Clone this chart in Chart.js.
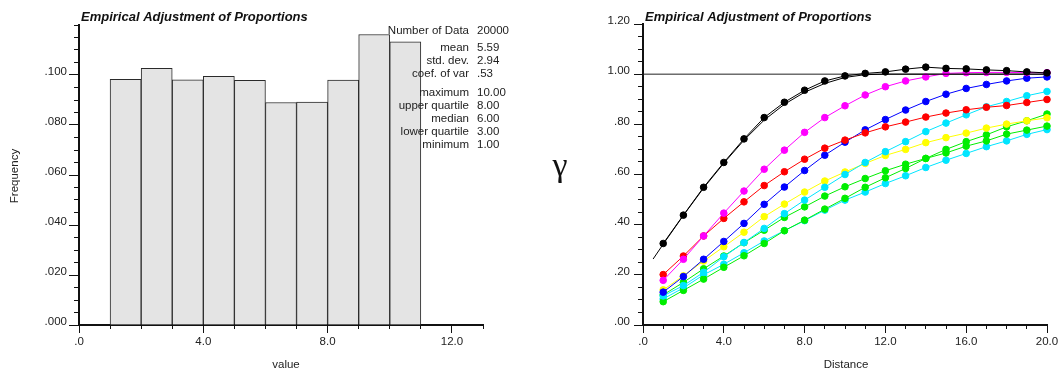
<!DOCTYPE html>
<html><head><meta charset="utf-8">
<script src="https://cdn.jsdelivr.net/npm/chart.js@4.4.0/dist/chart.umd.min.js"></script>
<style>
html,body{margin:0;padding:0;background:#fff;}
#wrap{position:relative;width:1064px;height:376px;overflow:hidden;background:#fff;}
canvas{position:absolute;top:0;}
#c1{left:0;width:532px;height:376px;}
#c2{left:532px;width:532px;height:376px;}
</style></head><body>
<div id="wrap"><canvas id="c1" width="532" height="376"></canvas><canvas id="c2" width="532" height="376"></canvas></div>
<script>
// ---------- Histogram data ----------
const binCenters = [1.5, 2.5, 3.5, 4.5, 5.5, 6.5, 7.5, 8.5, 9.5, 10.5];
const binFreq    = [0.0983, 0.1027, 0.0981, 0.0995, 0.0979, 0.0890, 0.0892, 0.0980, 0.1162, 0.1133];
const statLabels = ['Number of Data', 'mean', 'std. dev.', 'coef. of var', 'maximum', 'upper quartile', 'median', 'lower quartile', 'minimum'];
const statValues = ['20000', '5.59', '2.94', '.53', '10.00', '8.00', '6.00', '3.00', '1.00'];

// ---------- Variogram data ----------
const lags = [1,2,3,4,5,6,7,8,9,10,11,12,13,14,15,16,17,18,19,20];
const gBlack   = [0.325,0.438,0.549,0.648,0.742,0.827,0.888,0.936,0.973,0.993,1.003,1.009,1.020,1.028,1.023,1.021,1.017,1.014,1.009,1.005];
const gMagenta = [0.178,0.262,0.355,0.446,0.534,0.621,0.697,0.768,0.827,0.874,0.917,0.950,0.973,0.989,1.003,1.006,1.007,1.007,1.006,1.006];
const gRed     = [0.201,0.275,0.355,0.425,0.491,0.556,0.611,0.661,0.705,0.737,0.766,0.790,0.809,0.829,0.845,0.858,0.868,0.875,0.887,0.899];
const gBlue    = [0.131,0.193,0.262,0.333,0.405,0.481,0.550,0.616,0.677,0.729,0.778,0.819,0.857,0.891,0.920,0.943,0.959,0.973,0.984,0.989];
const gYellow  = [0.140,0.196,0.255,0.312,0.370,0.432,0.482,0.530,0.574,0.610,0.644,0.676,0.700,0.727,0.747,0.765,0.785,0.801,0.814,0.826];
const gCyan1   = [0.116,0.157,0.210,0.272,0.329,0.385,0.444,0.498,0.549,0.600,0.648,0.691,0.731,0.771,0.805,0.838,0.870,0.891,0.914,0.931];
const gCyan2   = [0.104,0.148,0.200,0.242,0.288,0.335,0.376,0.416,0.458,0.498,0.530,0.564,0.595,0.628,0.657,0.684,0.711,0.734,0.760,0.779];
const gGreen1  = [0.093,0.138,0.183,0.230,0.276,0.325,0.376,0.418,0.462,0.505,0.549,0.587,0.624,0.664,0.700,0.731,0.758,0.790,0.814,0.841];
const gGreen2  = [0.120,0.170,0.224,0.275,0.328,0.378,0.429,0.471,0.514,0.551,0.584,0.615,0.641,0.664,0.686,0.713,0.734,0.761,0.777,0.793];
const modelLags = [0.5,1,2,3,4,5,6,7,8,9,10,11,12,20];
const modelVals = [0.263,0.322,0.437,0.546,0.645,0.737,0.817,0.880,0.928,0.963,0.987,0.998,1.0,1.0];
const sillLags = [0, 20];
const sillVals = [1, 1];

const FONT = "'Liberation Sans', Arial, sans-serif";
Chart.defaults.font.family = FONT;
Chart.defaults.font.size = 11.5;
Chart.defaults.color = '#222';

function fmt(dec) {
  return function(v) {
    let s = Number(v).toFixed(dec);
    if (s.startsWith('0.')) s = s.slice(1);
    return s;
  };
}

function textPlugin(items) {
  return {
    id: 'texts',
    afterDraw(chart) {
      const ctx = chart.ctx;
      ctx.save();
      for (const t of items) {
        ctx.font = t.font;
        ctx.fillStyle = t.color || '#222';
        ctx.textAlign = t.align || 'left';
        ctx.textBaseline = 'middle';
        if (t.rot) {
          ctx.save(); ctx.translate(t.x, t.y); ctx.rotate(t.rot);
          ctx.fillText(t.text, 0, 0); ctx.restore();
        } else ctx.fillText(t.text, t.x, t.y);
      }
      ctx.restore();
    }
  };
}

function axes(o) {
  return {
    x: {
      type: 'linear', position: 'bottom', min: 0, max: o.xmax, offset: false, weight: 1, z: 1,
      grid: { display: true, drawOnChartArea: false, drawTicks: true, tickLength: 8, color: '#111', offset: false, tickWidth: 1 },
      border: { display: true, color: '#111', width: 2 },
      ticks: { stepSize: o.xMajor, includeBounds: false, autoSkip: false, maxRotation: 0, padding: 2, callback: fmt(o.xDec), color: '#222' },
      afterFit: s => { s.height = o.xH; }
    },
    xMinor: {
      type: 'linear', axis: 'x', position: 'bottom', min: 0, max: o.xmax, offset: false, weight: 0, z: 1,
      grid: { display: true, drawOnChartArea: false, drawTicks: true, tickLength: 4, color: '#111', offset: false },
      border: { display: false },
      ticks: { display: false, stepSize: 1 },
      afterFit: s => { s.height = 0; }
    },
    y: {
      type: 'linear', position: 'left', min: 0, max: o.ymax, weight: 1, z: 1,
      grid: { display: true, drawOnChartArea: false, drawTicks: true, tickLength: o.yTick, offset: false,
              color: '#111',
              tickColor: c => (o.hideTop && c.tick && c.tick.value > o.ymax - o.yMajor / 2) ? 'rgba(0,0,0,0)' : '#111' },
      border: { display: true, color: '#111', width: 2 },
      ticks: { stepSize: o.yMajor, autoSkip: false, padding: o.yPad, labelOffset: -3, color: '#222',
               callback: v => (o.hideTop && v > o.ymax - o.yMajor / 2) ? '' : fmt(o.yDec)(v) },
      afterFit: s => { s.width = o.yW; }
    },
    yMinor: {
      type: 'linear', axis: 'y', position: 'left', min: 0, max: o.ymax, weight: 0, z: 1,
      grid: { display: true, drawOnChartArea: false, drawTicks: true, tickLength: 5, color: '#111', offset: false },
      border: { display: false },
      ticks: { display: false, stepSize: o.yMinor },
      afterFit: s => { s.width = 0; }
    }
  };
}

const TITLE = 'Empirical Adjustment of Proportions';
const TFONT = "italic bold 13px " + FONT;
const LFONT = "11.5px " + FONT;

// ---------- Left: histogram ----------
const statY = [31, 48, 61, 74, 93, 106, 119, 132, 145];
const leftTexts = [
  { text: TITLE, x: 81, y: 17, font: TFONT, color: '#111' },
  { text: 'Frequency', x: 15, y: 176, font: LFONT, align: 'center', rot: -Math.PI / 2 },
  { text: 'value', x: 286, y: 365, font: LFONT, align: 'center' }
];
statLabels.forEach((s, i) => {
  leftTexts.push({ text: s, x: 469, y: statY[i], font: LFONT, align: 'right' });
  leftTexts.push({ text: statValues[i], x: 477, y: statY[i], font: LFONT, align: 'left' });
});

new Chart(document.getElementById('c1'), {
  type: 'bar',
  data: {
    datasets: [{
      data: binCenters.map((c, i) => ({ x: c, y: binFreq[i] })),
      backgroundColor: '#e4e4e4',
      borderColor: '#2a2a2a',
      borderWidth: 1,
      categoryPercentage: 1.0,
      barPercentage: 1.0
    }]
  },
  options: {
    responsive: false, animation: false, devicePixelRatio: 1,
    layout: { padding: { top: 25, right: 49, left: 0, bottom: 0 } },
    plugins: { legend: { display: false }, tooltip: { enabled: false }, title: { display: false } },
    scales: axes({ xmax: 13, xMajor: 4, xDec: 1, ymax: 0.12, yMajor: 0.02, yMinor: 0.005, yDec: 3,
                   yW: 79, xH: 51, hideTop: true, yTick: 10, yPad: 2 })
  },
  plugins: [textPlugin(leftTexts)]
});

// ---------- Right: variogram ----------
const seriesDefs = [
  { v: gBlack, c: '#000000' },
  { v: gMagenta, c: '#ff00ff' },
  { v: gRed, c: '#ff0000' },
  { v: gBlue, c: '#0000ff' },
  { v: gCyan1, c: '#00e5ff' },
  { v: gYellow, c: '#ffff00' },
  { v: gGreen2, c: '#00ee00' },
  { v: gGreen1, c: '#00ee00' },
  { v: gCyan2, c: '#00e5ff' }
];
const rightDatasets = seriesDefs.map(s => ({
  data: lags.map((d, i) => ({ x: d, y: s.v[i] })),
  borderColor: s.c, backgroundColor: s.c, pointBackgroundColor: s.c, pointBorderColor: s.c,
  borderWidth: 1, pointRadius: 3.3, pointBorderWidth: 1, clip: false, tension: 0
}));
rightDatasets.splice(1, 0, {
  data: modelLags.map((d, i) => ({ x: d, y: modelVals[i] })),
  borderColor: '#000', borderWidth: 1, pointRadius: 0, clip: false, tension: 0
});
rightDatasets.push({
  data: sillLags.map((d, i) => ({ x: d, y: sillVals[i] })),
  borderColor: '#222', borderWidth: 1, pointRadius: 0, clip: false
});

const rightTexts = [
  { text: TITLE, x: 113, y: 17, font: TFONT, color: '#111' },
  { text: 'γ', x: 28, y: 167, font: "34px 'Liberation Serif', 'DejaVu Serif', serif", align: 'center', color: '#111' },
  { text: 'Distance', x: 314, y: 365, font: LFONT, align: 'center' }
];

new Chart(document.getElementById('c2'), {
  type: 'line',
  data: { datasets: rightDatasets },
  options: {
    responsive: false, animation: false, devicePixelRatio: 1,
    layout: { padding: { top: 24, right: 17, left: 0, bottom: 0 } },
    plugins: { legend: { display: false }, tooltip: { enabled: false }, title: { display: false } },
    scales: axes({ xmax: 20, xMajor: 4, xDec: 1, ymax: 1.2, yMajor: 0.2, yMinor: 0.05, yDec: 2,
                   yW: 111, xH: 51, hideTop: false, yTick: 9, yPad: 4 })
  },
  plugins: [textPlugin(rightTexts)]
});
</script>
</body></html>
